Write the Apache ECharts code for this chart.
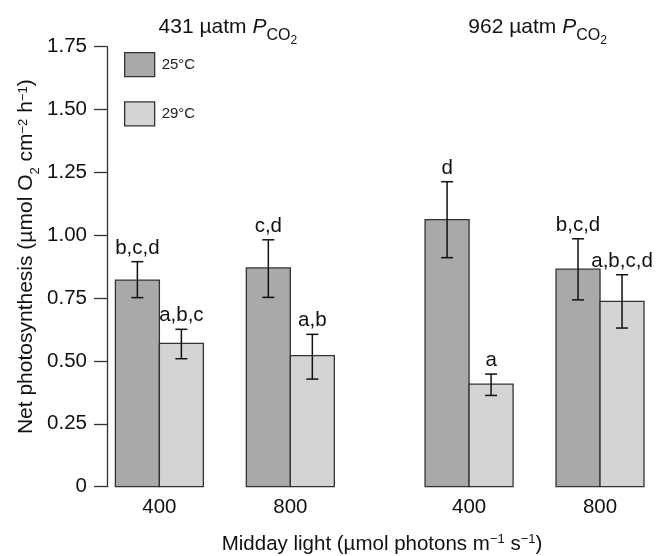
<!DOCTYPE html>
<html><head><meta charset="utf-8">
<script src="https://cdn.jsdelivr.net/npm/echarts@6/dist/echarts.min.js"></script>
<style>html,body{margin:0;padding:0;background:#fff}#c{width:657px;height:556px}</style>
</head><body><div id="c"></div>
<script>
// ---- data ----
const groupPositions = [1, 2, 3.365, 4.365];
const lightLabels = ['400', '800', '400', '800'];
const co2Labels = ['431', '962'];
const seriesNames = ['25°C', '29°C'];
const mean25 = [0.822, 0.870, 1.062, 0.865];
const low25  = [0.752, 0.753, 0.911, 0.743];
const high25 = [0.895, 0.982, 1.213, 0.986];
const letters25 = ['b,c,d', 'c,d', 'd', 'b,c,d'];
const mean29 = [0.570, 0.521, 0.408, 0.737];
const low29  = [0.509, 0.428, 0.363, 0.631];
const high29 = [0.626, 0.606, 0.448, 0.843];
const letters29 = ['a,b,c', 'a,b', 'a', 'a,b,c,d'];

// ---- style ----
const FONT = '"Liberation Sans", Arial, sans-serif';
const BAR_W = 0.336;
const DARK = '#a9a9a9', LIGHT = '#d4d4d4', EDGE = '#333';

function rows(m, lo, hi) { return groupPositions.map((x, i) => [x, m[i], lo[i], hi[i]]); }

function makeRender(side, letters, fill) {
  return function (params, api) {
    const x = api.value(0), y = api.value(1), lo = api.value(2), hi = api.value(3);
    const base = api.coord([x, 0]);
    const top = api.coord([x, y]);
    const w = api.size([BAR_W, 0])[0];
    const x0 = side < 0 ? base[0] - w : base[0];
    const cx = x0 + w / 2;
    const pLo = api.coord([x, lo])[1], pHi = api.coord([x, hi])[1];
    const cap = 6;
    const ls = { stroke: '#111', lineWidth: 1.5 };
    return {
      type: 'group', children: [
        { type: 'rect', shape: { x: x0, y: top[1], width: w, height: base[1] - top[1] },
          style: { fill: fill, stroke: EDGE, lineWidth: 1.3 } },
        { type: 'line', shape: { x1: cx, y1: pLo, x2: cx, y2: pHi }, style: ls },
        { type: 'line', shape: { x1: cx - cap, y1: pLo, x2: cx + cap, y2: pLo }, style: ls },
        { type: 'line', shape: { x1: cx - cap, y1: pHi, x2: cx + cap, y2: pHi }, style: ls },
        { type: 'text', x: cx, y: pHi - 3,
          style: { text: letters[params.dataIndex], fill: '#111', fontSize: 20.5, fontFamily: FONT,
                   align: 'center', verticalAlign: 'bottom' } }
      ]
    };
  };
}

const chart = echarts.init(document.getElementById('c'), null, { renderer: 'canvas' });
const option = {
  animation: false,
  backgroundColor: '#fff',
  textStyle: { fontFamily: FONT },
  grid: { left: 107, right: 0, top: 46.7, bottom: 69.3, containLabel: false, outerBoundsMode: 'none' },
  legend: {
    data: seriesNames, orient: 'vertical', left: 119, top: 47,
    itemWidth: 30, itemHeight: 24, itemGap: 24, icon: 'rect',
    itemStyle: { borderColor: EDGE, borderWidth: 1.3 },
    textStyle: { fontSize: 15, color: '#222', fontFamily: FONT, padding: [0, 0, 0, 2] }
  },
  xAxis: {
    type: 'value', min: 0.6, max: 4.8,
    axisLine: { show: false }, axisTick: { show: false }, splitLine: { show: false },
    axisLabel: {
      customValues: groupPositions,
      formatter: v => { const i = groupPositions.findIndex(p => Math.abs(p - v) < 1e-6); return i >= 0 ? lightLabels[i] : ''; },
      fontSize: 20.5, color: '#111', margin: 10, fontFamily: FONT
    },
    name: 'Midday light (µmol photons m{sup|−1} s{sup|−1})',
    nameLocation: 'middle', nameGap: 45, nameMoveOverlap: false,
    nameTextStyle: {
      fontSize: 20.5, color: '#111', fontFamily: FONT, lineHeight: 26, verticalAlign: 'top',
      rich: { sup: { fontSize: 13, lineHeight: 13, padding: [1, 0, 0, 0], verticalAlign: 'top', fontFamily: FONT, color: '#111' } }
    }
  },
  yAxis: {
    type: 'value', min: 0, max: 1.75, interval: 0.25,
    axisLine: { show: true, lineStyle: { color: EDGE, width: 1.3 } },
    axisTick: { show: true, length: 13, lineStyle: { color: EDGE, width: 1.3 } },
    splitLine: { show: false },
    axisLabel: { fontSize: 20.5, color: '#111', margin: 20, fontFamily: FONT,
                 formatter: v => (v === 0 ? '0' : v.toFixed(2)) },
    name: '{n|Net photosynthesis (µmol O}{sub|2}{n| cm}{sup|−2}{n| h}{sup|−1}{n|)}',
    nameLocation: 'middle', nameRotate: 90, nameGap: 65, nameMoveOverlap: false,
    nameTextStyle: {
      color: '#111', fontFamily: FONT, padding: [0, 0, 0, 20],
      rich: {
        n: { fontSize: 21, lineHeight: 26, verticalAlign: 'top', fontFamily: FONT, color: '#111' },
        sub: { fontSize: 13, lineHeight: 13, padding: [13, 0, 0, 0], verticalAlign: 'top', fontFamily: FONT, color: '#111' },
        sup: { fontSize: 13, lineHeight: 13, padding: [1, 0, 0, 0], verticalAlign: 'top', fontFamily: FONT, color: '#111' }
      }
    }
  },
  series: [
    { type: 'custom', name: seriesNames[0], itemStyle: { color: DARK }, data: rows(mean25, low25, high25),
      renderItem: makeRender(-1, letters25, DARK), encode: { x: 0, y: [1, 2, 3] }, clip: false },
    { type: 'custom', name: seriesNames[1], itemStyle: { color: LIGHT }, data: rows(mean29, low29, high29),
      renderItem: makeRender(1, letters29, LIGHT), encode: { x: 0, y: [1, 2, 3] }, clip: false }
  ]
};
chart.setOption(option);

// condition titles centred over each pair of groups
const titleRich = {
  n: { fontSize: 21, lineHeight: 25, verticalAlign: 'top', fontFamily: FONT, fill: '#111' },
  i: { fontSize: 21, lineHeight: 25, verticalAlign: 'top', fontStyle: 'italic', fontFamily: FONT, fill: '#111' },
  s: { fontSize: 16, lineHeight: 16, padding: [11, 0, 0, 0], verticalAlign: 'top', fontFamily: FONT, fill: '#111' },
  ss: { fontSize: 12, lineHeight: 12, padding: [18, 0, 0, 0], verticalAlign: 'top', fontFamily: FONT, fill: '#111' }
};
const graphics = co2Labels.map((lab, k) => {
  const a = chart.convertToPixel({ xAxisIndex: 0 }, groupPositions[2 * k]);
  const b = chart.convertToPixel({ xAxisIndex: 0 }, groupPositions[2 * k + 1]);
  return { type: 'text', x: (a + b) / 2 + 3, y: 17,
    style: { text: '{n|' + lab + ' µatm }{i|P}{s|CO}{ss|2}', rich: titleRich, align: 'center', verticalAlign: 'top' } };
});
chart.setOption({ graphic: graphics });
</script></body></html>
